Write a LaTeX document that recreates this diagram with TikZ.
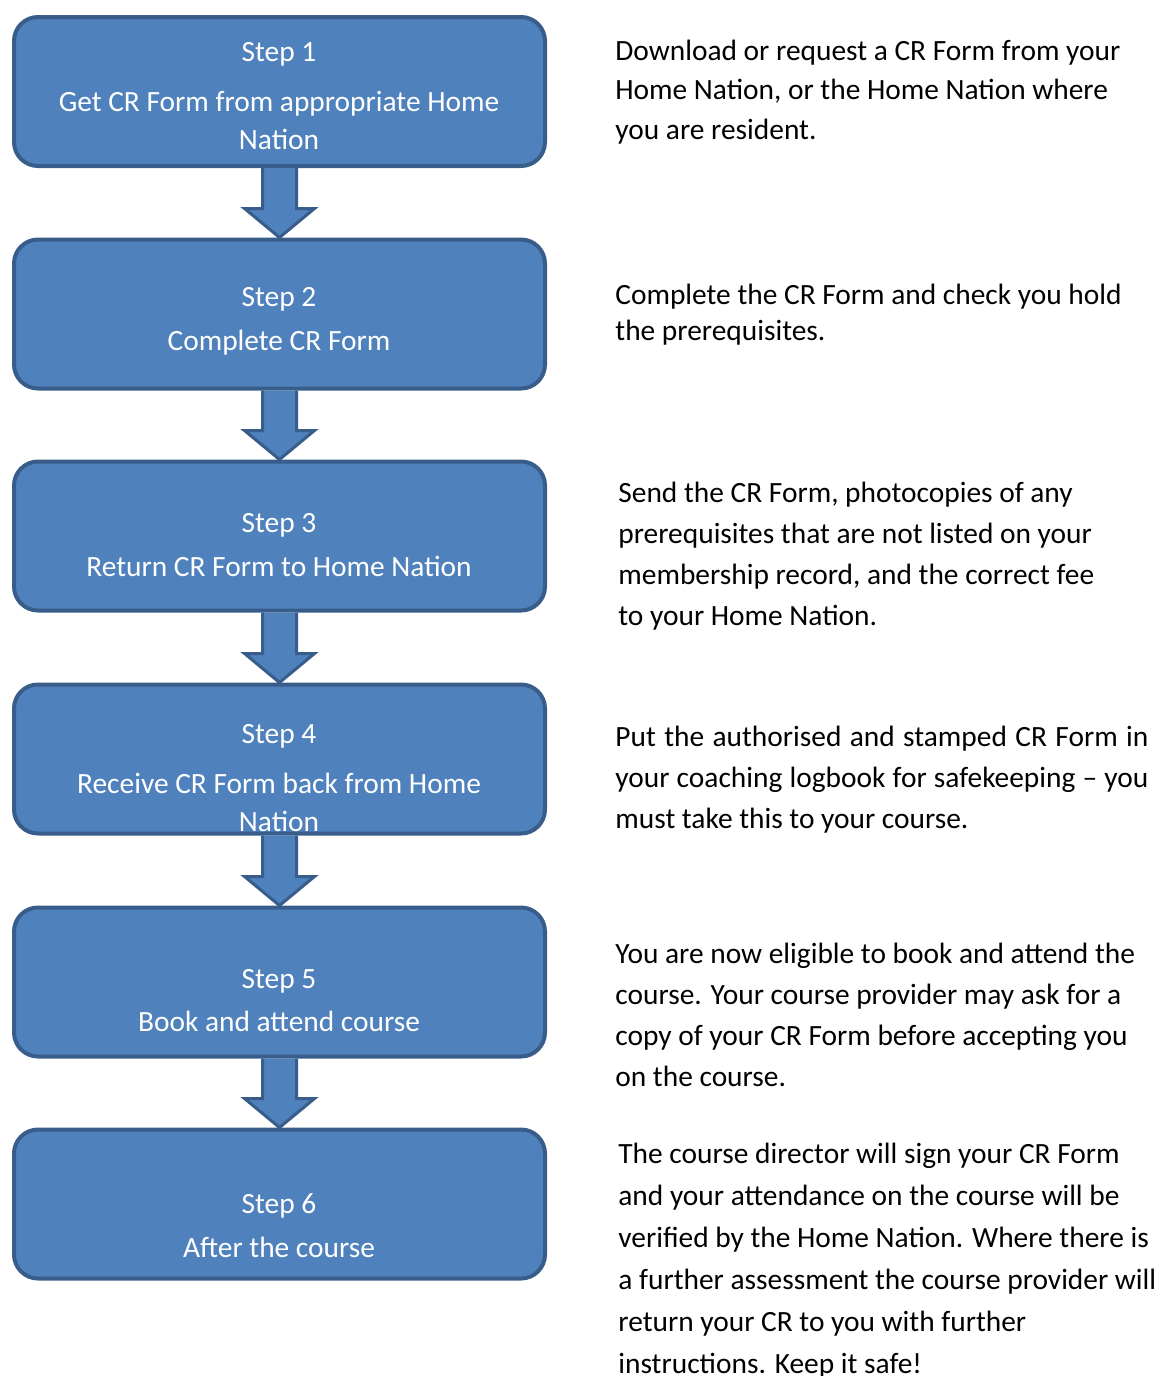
\documentclass[tikz,border=0pt]{standalone}
\usepackage{fontspec}
\setmainfont{Carlito}
\usetikzlibrary{calc}

\definecolor{boxfill}{HTML}{4F81BD}
\definecolor{boxline}{HTML}{385D8A}

\tikzset{
  stepbox/.style={draw=boxline, fill=boxfill, line width=2pt, rounded corners=12pt,
    minimum width=265.5pt, minimum height=74.5pt, inner sep=0pt},
  steptext/.style={anchor=base, text=white, align=center, inner sep=0pt,
    font=\fontsize{14.7}{19}\selectfont},
  sidetext/.style={anchor=base west, align=left, inner sep=0pt,
    font=\fontsize{14.7}{20.5}\selectfont},
  blockarrow/.style={draw=boxline, fill=boxfill, line width=1.5pt, line join=miter}
}

\begin{document}
\begin{tikzpicture}[x=0.5pt,y=-0.5pt]
\useasboundingbox (0,0) rectangle (1158,1376);

% the six steps
\node[stepbox] (step1) at (279.5,91.5) {};
\node[stepbox] (step2) at (279.5,314) {};
\node[stepbox] (step3) at (279.5,536) {};
\node[stepbox] (step4) at (279.5,759) {};
\node[stepbox] (step5) at (279.5,982) {};
\node[stepbox] (step6) at (279.5,1204) {};

\foreach \a/\b in {step1/step2,step2/step3,step3/step4,step4/step5,step5/step6}
\draw[blockarrow] ($(\a.south)+(-17,0)$) -- ($(\b.north)+(-17,-29)$) -- ($(\b.north)+(-35,-29)$)
  -- (\b.north) -- ($(\b.north)+(35,-29)$) -- ($(\b.north)+(17,-29)$) -- ($(\a.south)+(17,0)$);

% base = last line
\node[steptext] (label1) at (279,149) {Step 1\\[6pt]Get CR Form from appropriate Home\\Nation};
\node[steptext] (label2) at (279,350) {Step 2\\[3pt]Complete CR Form};
\node[steptext] (label3) at (279,576) {Step 3\\[3pt]Return CR Form to Home Nation};
\node[steptext] (label4) at (279,831) {Step 4\\[6pt]Receive CR Form back from Home\\Nation};
\node[steptext] (label5) at (279,1031) {Step 5\\[2.5pt]Book and attend course};
\node[steptext] (label6) at (279,1257) {Step 6\\[3pt]After the course};

% explanations
\node[sidetext, font=\fontsize{14.7}{19.75}\selectfont] (note1) at (615,139)
  {Download or request a CR Form from your\\Home Nation, or the Home Nation where\\you are resident.};
\node[sidetext, font=\fontsize{14.7}{18}\selectfont] (note2) at (615,340)
  {Complete the CR Form and check you hold\\the prerequisites.};
\node[sidetext] (note3) at (618,625)
  {Send the CR Form, photocopies of any\\prerequisites that are not listed on your\\membership record, and the correct fee\\to your Home Nation.};
\node[sidetext, align=justify, text width=266.5pt] (note4) at (615,746)
  {Put the authorised and stamped CR Form in\linebreak your coaching logbook for safekeeping -- you\linebreak must take this to your course.};
\node[sidetext] (note5) at (615,1086)
  {You are now eligible to book and attend the\\course. Your course provider may ask for a\\copy of your CR Form before accepting you\\on the course.};
\node[sidetext, font=\fontsize{14.7}{21}\selectfont] (note6) at (618,1373)
  {The course director will sign your CR Form\\and your attendance on the course will be\\verified by the Home Nation. Where there is\\a further assessment the course provider will\\return your CR to you with further\\instructions. Keep it safe!};

\end{tikzpicture}
\end{document}
